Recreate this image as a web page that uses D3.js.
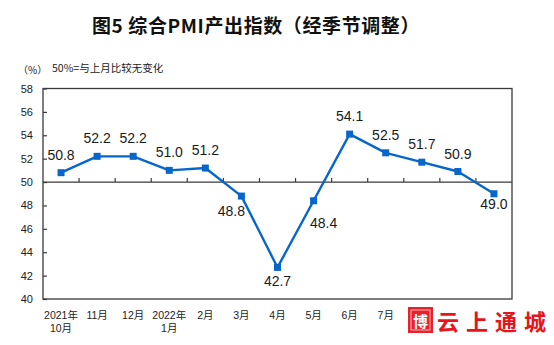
<!DOCTYPE html>
<html>
<head>
<meta charset="utf-8">
<script src="https://cdn.jsdelivr.net/npm/d3@7"></script>
<style>
  html, body { margin: 0; padding: 0; background: #fff; }
  svg { display: block; }
</style>
</head>
<body>
<svg id="chart" width="554" height="345"></svg>
<script>
// Composite PMI output index, seasonally adjusted (%)
const months = ["2021-10", "2021-11", "2021-12", "2022-01", "2022-02", "2022-03", "2022-04",
                "2022-05", "2022-06", "2022-07", "2022-08", "2022-09", "2022-10"];
const monthLabels = [["2021年", "10月"], ["11月"], ["12月"], ["2022年", "1月"], ["2月"], ["3月"], ["4月"],
                     ["5月"], ["6月"], ["7月"], ["8月"], ["9月"], ["10月"]];
const pmiValues = [50.8, 52.2, 52.2, 51.0, 51.2, 48.8, 42.7, 48.4, 54.1, 52.5, 51.7, 50.9, 49.0];
const yTicks = [40, 42, 44, 46, 48, 50, 52, 54, 56, 58];

const svg = d3.select("#chart");
const plot = { left: 43, right: 512, top: 88.5, bottom: 299 };
const lineColor = "#0766cc";
const axisColor = "#3a3a3a";
const latin = "Arial, 'Liberation Sans', sans-serif";
const cjk = "'Noto Sans CJK SC', 'Noto Sans', sans-serif";
const mixed = "Arial, 'Liberation Sans', 'Noto Sans CJK SC', sans-serif";
const markLeft = 404; // publisher mark occupies the corner from here rightwards

const x = d3.scaleBand().domain(months).range([plot.left, plot.right]).padding(0);
const y = d3.scaleLinear().domain([40, 58]).range([plot.bottom, plot.top]);
const cx = d => x(d) + x.bandwidth() / 2;

// Title
svg.append("text")
  .attr("x", 256).attr("y", 24)
  .attr("text-anchor", "middle").attr("dominant-baseline", "central")
  .attr("font-family", cjk).attr("font-weight", 700).attr("font-size", 19)
  .attr("letter-spacing", 0.6)
  .attr("fill", "#111")
  .text("图5 综合PMI产出指数（经季节调整）");

// Unit and note
svg.append("text")
  .attr("x", 18).attr("y", 69).attr("dominant-baseline", "central")
  .attr("font-family", cjk).attr("font-size", 10).attr("fill", "#222")
  .text("（%）");
svg.append("text")
  .attr("x", 52).attr("y", 67).attr("dominant-baseline", "central")
  .attr("font-family", cjk).attr("font-size", 10.5).attr("fill", "#222")
  .text("50%=与上月比较无变化");

// Plot frame
svg.append("rect")
  .attr("x", plot.left).attr("y", plot.top)
  .attr("width", plot.right - plot.left).attr("height", plot.bottom - plot.top)
  .attr("fill", "none").attr("stroke", axisColor).attr("stroke-width", 1.3);

// Y axis with inward ticks
const yAxis = svg.append("g")
  .attr("transform", `translate(${plot.left},0)`)
  .call(d3.axisLeft(y).tickValues(yTicks).tickSize(-4).tickPadding(10).tickFormat(d3.format("d")));
yAxis.select(".domain").remove();
yAxis.selectAll(".tick line").attr("stroke", axisColor).attr("stroke-width", 1.2);
yAxis.selectAll(".tick text")
  .attr("font-family", latin).attr("font-size", 11).attr("fill", "#222");

// Reference line at 50 with upward ticks on month boundaries
svg.append("line")
  .attr("x1", plot.left).attr("x2", plot.right)
  .attr("y1", y(50)).attr("y2", y(50))
  .attr("stroke", axisColor).attr("stroke-width", 1.3);
svg.append("g").selectAll("line")
  .data(months.slice(1))
  .join("line")
  .attr("x1", d => x(d)).attr("x2", d => x(d))
  .attr("y1", y(50)).attr("y2", y(50) - 4)
  .attr("stroke", axisColor).attr("stroke-width", 1.2);

// Month labels below the frame, one text per line
// (those under the publisher mark stay hidden)
const labelLines = months
  .filter(d => cx(d) + 10 < markLeft)
  .flatMap(d => monthLabels[months.indexOf(d)].map((s, k) => ({ d, s, k })));
svg.append("g").selectAll("text")
  .data(labelLines)
  .join("text")
  .attr("x", e => cx(e.d)).attr("y", e => 315 + e.k * 13)
  .attr("text-anchor", "middle").attr("dominant-baseline", "central")
  .attr("font-family", mixed).attr("font-size", 10.5).attr("fill", "#222")
  .text(e => e.s);

// Series line
const pts = months.map((m, i) => ({ m, v: pmiValues[i] }));
svg.append("path")
  .datum(pts)
  .attr("fill", "none").attr("stroke", lineColor).attr("stroke-width", 2.4)
  .attr("stroke-linejoin", "round")
  .attr("d", d3.line().x(d => cx(d.m)).y(d => y(d.v)));

// Square markers
svg.append("g").selectAll("rect")
  .data(pts)
  .join("rect")
  .attr("x", d => cx(d.m) - 3.5).attr("y", d => y(d.v) - 3.5)
  .attr("width", 7).attr("height", 7)
  .attr("fill", lineColor);

// Value labels: above the point by default, below for the dip months
const labelShift = { "2022-03": [-10, 15], "2022-04": [0, 14], "2022-05": [10, 22], "2022-10": [0, 10] };
svg.append("g").selectAll("text")
  .data(pts)
  .join("text")
  .attr("x", d => cx(d.m) + (labelShift[d.m] ? labelShift[d.m][0] : 0))
  .attr("y", d => y(d.v) + (labelShift[d.m] ? labelShift[d.m][1] : -18))
  .attr("text-anchor", "middle").attr("dominant-baseline", "central")
  .attr("font-family", latin).attr("font-size", 14).attr("fill", "#1a1a1a")
  .text(d => d.v.toFixed(1));

// Publisher mark in the lower right corner
const mark = svg.append("g");
mark.append("rect").attr("x", 408.5).attr("y", 307.5).attr("width", 24).attr("height", 25)
  .attr("fill", "#e8222a").attr("stroke", "#e8222a").attr("stroke-width", 1);
mark.append("rect").attr("x", 411).attr("y", 310).attr("width", 19).attr("height", 20)
  .attr("fill", "none").attr("stroke", "#fbdada").attr("stroke-width", 0.8);
mark.append("text").attr("x", 420.5).attr("y", 320.5)
  .attr("text-anchor", "middle").attr("dominant-baseline", "central")
  .attr("font-family", cjk).attr("font-weight", 700).attr("font-size", 15).attr("fill", "#fff")
  .text("博");
mark.append("text").attr("x", 437).attr("y", 320)
  .attr("dominant-baseline", "central")
  .attr("font-family", cjk).attr("font-weight", 700).attr("font-size", 22)
  .attr("letter-spacing", 7).attr("fill", "#e8141c")
  .text("云上通城");
</script>
</body>
</html>
